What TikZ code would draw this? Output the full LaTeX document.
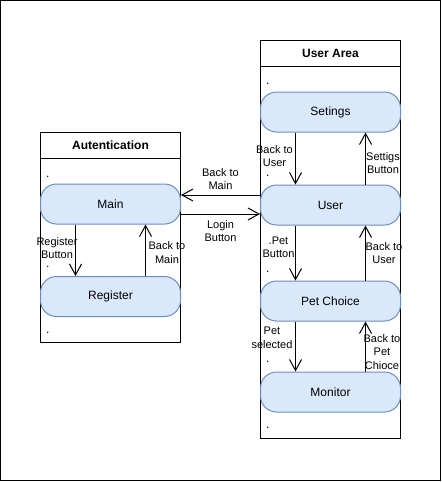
\documentclass[tikz,border=0pt]{standalone}
\usepackage{fontspec}
\setmainfont{Liberation Sans}
\usetikzlibrary{arrows.meta,positioning}
\definecolor{statefill}{HTML}{DAE8FC}
\definecolor{stateline}{HTML}{6C8EBF}
\tikzset{
  state/.style={draw=stateline,fill=statefill,line width=1pt,rounded corners=16pt,
    minimum width=140pt,minimum height=40pt,inner sep=0pt,font=\fontsize{12}{14}\selectfont},
  pool/.style={draw,line width=1pt,inner sep=0pt},
  pooltitle/.style={inner sep=0pt,font=\fontsize{12}{14}\selectfont\bfseries},
  lbl/.style={align=center,inner sep=0pt,font=\fontsize{11}{13.5}\selectfont},
  dotmark/.style={inner sep=0pt,anchor=base west,font=\fontsize{12}{14}\selectfont},
  edge/.style={-{Straight Barb[length=11pt,width=12pt]},line width=1pt},
}
\begin{document}
\begin{tikzpicture}[x=1pt,y=-1pt]
\useasboundingbox (0,0) rectangle (442,482);
\draw[line width=1pt] (0.5,0.5) rectangle (440,480);
% pools
\node[pool,minimum width=140pt,minimum height=209.5pt] (auth) at (110.5,237.25) {};
\node[pooltitle] (authtitle) at (110.5,145.5) {Autentication};
\draw[line width=1pt] ([yshift=-26pt]auth.north west) -- ([yshift=-26pt]auth.north east);
\node[pool,minimum width=140pt,minimum height=397.5pt] (area) at (330.5,239.25) {};
\node[pooltitle] (areatitle) at (330.5,53.5) {User Area};
\draw[line width=1pt] ([yshift=-26pt]area.north west) -- ([yshift=-26pt]area.north east);
% placeholder dots
\foreach \y [count=\i] in {177.5,267.5,333.8}
  \node[dotmark] (ldot\i) at (45.9,\y) {.};
\foreach \y [count=\i] in {84.1,176.5,272.5,362.5,428.8}
  \node[dotmark] (rdot\i) at (265.9,\y) {.};
% states
\node[state] (main) at (110.5,204) {Main};
\node[state] (register) at (110.5,296.5) {Register};
\node[state] (settings) at (330.5,112) {Setings};
\node[state] (user) at (330.5,205) {User};
\node[state] (petchoice) at (330.5,301) {Pet Choice};
\node[state] (monitor) at (330.5,392) {Monitor};
% transitions
\draw[edge] ([yshift=10pt]user.west) -- ([yshift=10pt]user.west -| main.east)
  node[lbl,midway,yshift=16pt] {Back to\\Main};
\draw[edge] ([yshift=-10pt]main.east) -- ([yshift=-10pt]main.east -| user.west)
  node[lbl,midway,yshift=-17pt] {Login\\Button};
\draw[edge] ([xshift=-35pt]main.south) -- ([xshift=-35pt]register.north)
  node[lbl,midway,xshift=-18.5pt,yshift=2pt] {Register\\Button};
\draw[edge] ([xshift=35pt]register.north) -- ([xshift=35pt]main.south)
  node[lbl,midway,xshift=21.5pt,yshift=-2.5pt] {Back to\\Main};
\draw[edge] ([xshift=-35pt]settings.south) -- ([xshift=-35pt]user.north)
  node[lbl,midway,xshift=-21pt,yshift=2.5pt] {Back to\\User};
\draw[edge] ([xshift=35pt]user.north) -- ([xshift=35pt]settings.south)
  node[lbl,midway,xshift=17.5pt,yshift=-4.5pt] {Settigs\\Button};
\draw[edge] ([xshift=-35pt]user.south) -- ([xshift=-35pt]petchoice.north)
  node[lbl,midway,xshift=-17pt,yshift=5.5pt] {.Pet\\Button};
\draw[edge] ([xshift=35pt]petchoice.north) -- ([xshift=35pt]user.south)
  node[lbl,midway,xshift=18.5pt] {Back to\\User};
\draw[edge] ([xshift=-35pt]petchoice.south) -- ([xshift=-35pt]monitor.north)
  node[lbl,midway,xshift=-23.5pt,yshift=8.5pt] {Pet\\selected};
\draw[edge] ([xshift=35pt]monitor.north) -- ([xshift=35pt]petchoice.south)
  node[lbl,midway,xshift=16.5pt,yshift=-5.5pt] {Back to\\Pet\\Chioce};
\end{tikzpicture}
\end{document}
